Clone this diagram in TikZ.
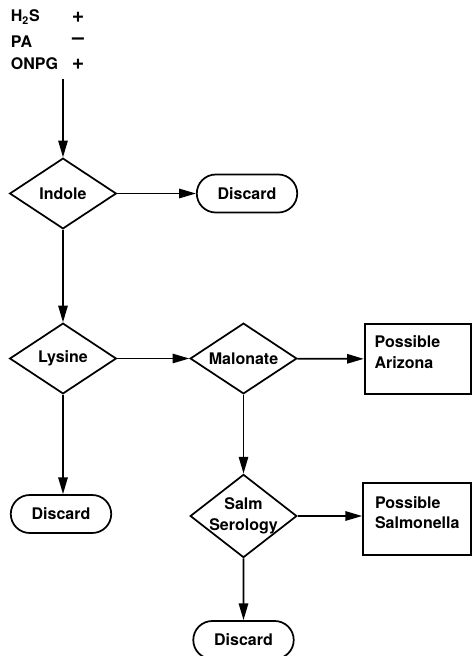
\documentclass[tikz,border=0pt]{standalone}
\usepackage{fontspec}
\setmainfont{TeX Gyre Heros}
\usetikzlibrary{shapes.geometric}
\usetikzlibrary{shapes.misc}
\usetikzlibrary{arrows.meta}

\begin{document}
\begin{tikzpicture}[x=0.75pt, y=-0.75pt, line width=1.3pt,
    font=\bfseries\fontsize{12}{15.5}\selectfont,
    decision/.style={draw, diamond, inner sep=-4pt, minimum width=80pt, minimum height=53pt, align=center},
    discard/.style={draw, rounded rectangle, minimum width=82pt, minimum height=28.5pt},
    outcome/.style={draw, rectangle, minimum width=80pt, minimum height=53pt},
    outtext/.style={anchor=north west, align=left, inner sep=0pt},
    testlbl/.style={anchor=west, inner sep=0pt},
    signlbl/.style={inner sep=0pt, font=\bfseries\fontsize{16}{16}\selectfont},
    flow/.style={-{Triangle[length=12.5pt, width=7pt]}}]
            \useasboundingbox (0,0) rectangle (472,656);
            % Starting reactions
            \node[testlbl] (h2s) at (10,17) {H\textsubscript{2}S};
            \node[testlbl] (pa) at (10,42) {PA};
            \node[testlbl] (onpg) at (10,64) {ONPG};
            \node[signlbl] (h2ssign) at (78,17) {+};
            \node[signlbl] (pasign) at (78,41) {--};
            \node[signlbl] (onpgsign) at (78,64) {+};
            \coordinate (start) at (63,79);

            % Decisions
            \node[decision] (indole) at (63,193.5) {Indole};
            \node[decision] (lysine) at (63,358.5) {Lysine};
            \node[decision] (malonate) at (243.5,358.5) {Malonate};
            \node[decision] (salm) at (243.5,516) {Salm\\Serology};

            % Discards
            \node[discard] (discardA) at (247,193.5) {Discard};
            \node[discard] (discardB) at (61,514) {Discard};
            \node[discard] (discardC) at (243.5,640) {Discard};

            % Outcomes
            \node[outcome] (arizona) at (418,359) {};
            \node[outtext] (arizonatxt) at ([xshift=7.5pt, yshift=-9pt]arizona.north west) {Possible\\Arizona};
            \node[outcome, minimum width=81pt, minimum height=54pt] (salmonella) at (417,519) {};
            \node[outtext] (salmonellatxt) at ([xshift=9pt, yshift=-10pt]salmonella.north west) {Possible\\Salmonella};

            % Connectors
            \draw[flow] (start) -- (indole);
            \draw[flow] (indole) -- (discardA);
            \draw[flow] (indole) -- (lysine);
            \draw[flow] (lysine) -- (malonate);
            \draw[flow] (malonate) -- (arizona);
            \draw[flow] (lysine.south) -- (lysine.south |- discardB.north);
            \draw[flow] (malonate) -- (salm);
            \draw[flow] (salm.east) -- (salm.east -| salmonella.west);
            \draw[flow] (salm) -- (discardC);
        \end{tikzpicture}
\end{document}
